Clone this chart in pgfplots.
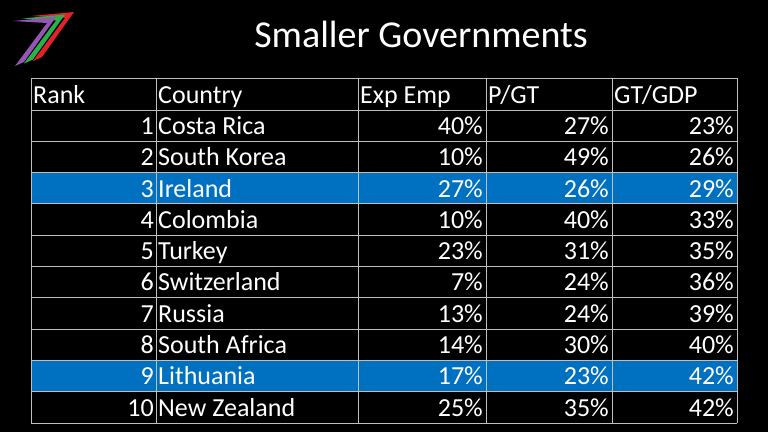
\documentclass[border=0pt]{standalone}
\usepackage{fontspec}
\setmainfont{Carlito}
\usepackage{pgfplots}
\usepackage{pgfplotstable}
\pgfplotsset{compat=1.18}

\definecolor{rowblue}{RGB}{0,112,192}
\definecolor{gridgray}{RGB}{191,191,191}
\definecolor{logored}{RGB}{225,35,40}
\definecolor{logogreen}{RGB}{45,175,75}
\definecolor{logopurple}{RGB}{150,85,180}

% ranking table
\pgfplotstableread[col sep=comma]{
rank,country,exp,pgt,gtgdp
1,Costa Rica,40,27,23
2,South Korea,10,49,26
3,Ireland,27,26,29
4,Colombia,10,40,33
5,Turkey,23,31,35
6,Switzerland,7,24,36
7,Russia,13,24,39
8,South Africa,14,30,40
9,Lithuania,17,23,42
10,New Zealand,25,35,42
}\govdata

\newcommand{\cellfont}{\fontsize{26}{30}\selectfont}
\newcommand{\seven}[3]{% offset x, offset y, colour
  \fill[#3] (axis cs:{13+#1},{21+#2}) -- (axis cs:{56+#1},{17+#2}) -- (axis cs:{24+#1},{62+#2})
    -- (axis cs:{15+#1},{66+#2}) -- (axis cs:{47+#1},{23+#2}) -- cycle;}

\begin{document}
\begin{tikzpicture}
\begin{axis}[
    scale only axis,
    width=768pt, height=432pt,
    xmin=0, xmax=768, ymin=0, ymax=432,
    y dir=reverse,
    hide axis, clip=false,
    point meta=explicit symbolic,
    every node near coord/.append style={font=\cellfont, text=white, inner sep=0pt},
]
\fill[black] (axis cs:0,0) rectangle (axis cs:768,432);

% logo
\seven{18}{-5}{logored}
\seven{9}{-2.5}{logogreen}
\seven{0}{0}{logopurple}

\node[anchor=base, font=\fontsize{38}{45}\selectfont, text=white, inner sep=0pt]
    at (axis cs:421,47) {Smaller Governments};

% highlighted rows
\fill[rowblue] (axis cs:31,172.6) rectangle (axis cs:737,203.9);
\fill[rowblue] (axis cs:31,360.4) rectangle (axis cs:737,391.7);

% grid
\draw[gridgray, line width=1pt] (axis cs:31,78) -- (axis cs:737,78);
\pgfplotsinvokeforeach{0,...,10}{
  \draw[gridgray, line width=1pt] (axis cs:31,{110+31.3*#1}) -- (axis cs:737,{110+31.3*#1});
}
\pgfplotsinvokeforeach{31,156,358,486,612,737}{
  \draw[gridgray, line width=1pt] (axis cs:#1,78) -- (axis cs:#1,423);
}

% header
\node[anchor=base west, font=\cellfont, text=white, inner sep=0pt] at (axis cs:33,103) {Rank};
\node[anchor=base west, font=\cellfont, text=white, inner sep=0pt] at (axis cs:158,103) {Country};
\node[anchor=base west, font=\cellfont, text=white, inner sep=0pt] at (axis cs:360,103) {Exp Emp};
\node[anchor=base west, font=\cellfont, text=white, inner sep=0pt] at (axis cs:488,103) {P/GT};
\node[anchor=base west, font=\cellfont, text=white, inner sep=0pt] at (axis cs:614,103) {GT/GDP};

% cells
\addplot[draw=none, mark=none, nodes near coords={\pgfplotspointmeta},
    every node near coord/.append style={anchor=base east}]
    table[x expr=154, y expr=103.15+31.3*\thisrow{rank}, meta=rank] {\govdata};
\addplot[draw=none, mark=none, nodes near coords={\pgfplotspointmeta},
    every node near coord/.append style={anchor=base west}]
    table[x expr=158, y expr=103.15+31.3*\thisrow{rank}, meta=country] {\govdata};
\addplot[draw=none, mark=none, nodes near coords={\pgfplotspointmeta\%},
    every node near coord/.append style={anchor=base east}]
    table[x expr=483, y expr=103.15+31.3*\thisrow{rank}, meta=exp] {\govdata};
\addplot[draw=none, mark=none, nodes near coords={\pgfplotspointmeta\%},
    every node near coord/.append style={anchor=base east}]
    table[x expr=609, y expr=103.15+31.3*\thisrow{rank}, meta=pgt] {\govdata};
\addplot[draw=none, mark=none, nodes near coords={\pgfplotspointmeta\%},
    every node near coord/.append style={anchor=base east}]
    table[x expr=734, y expr=103.15+31.3*\thisrow{rank}, meta=gtgdp] {\govdata};
\end{axis}
\end{tikzpicture}
\end{document}
